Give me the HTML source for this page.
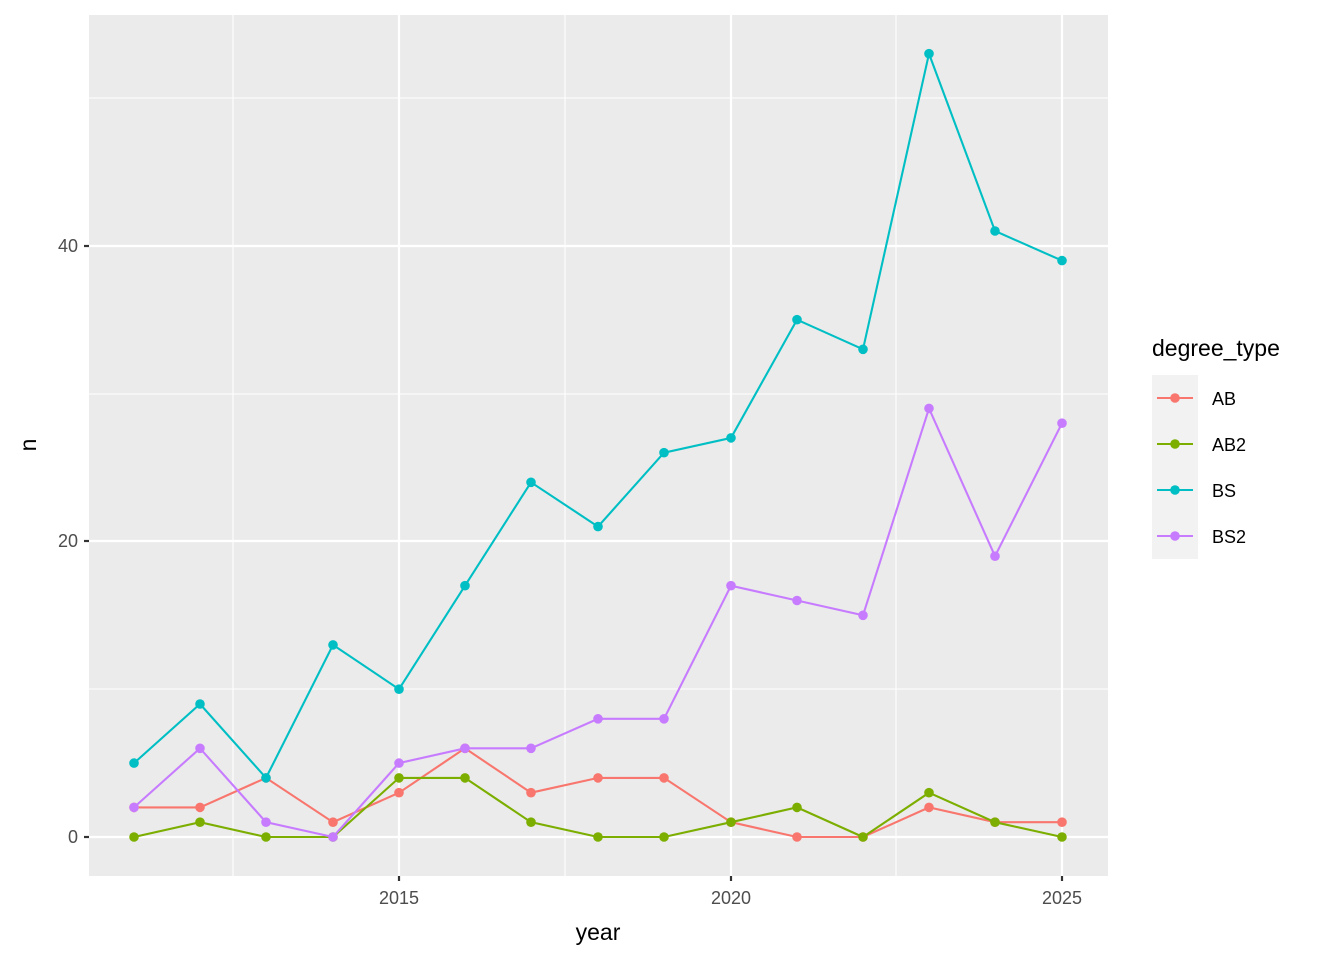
<!DOCTYPE html>
<html><head><meta charset="utf-8"><style>body{margin:0;background:#fff}svg{display:block}text{font-family:"Liberation Sans",Arial,sans-serif}</style></head>
<body>
<svg width="1344" height="960" viewBox="0 0 1344 960" xmlns="http://www.w3.org/2000/svg">
<defs>
<marker id="mA" markerUnits="userSpaceOnUse" markerWidth="12" markerHeight="12" refX="6" refY="6"><circle cx="6" cy="6" r="4.8" fill="#F8766D"/></marker>
<marker id="mB" markerUnits="userSpaceOnUse" markerWidth="12" markerHeight="12" refX="6" refY="6"><circle cx="6" cy="6" r="4.8" fill="#7CAE00"/></marker>
<marker id="mC" markerUnits="userSpaceOnUse" markerWidth="12" markerHeight="12" refX="6" refY="6"><circle cx="6" cy="6" r="4.8" fill="#00BFC4"/></marker>
<marker id="mD" markerUnits="userSpaceOnUse" markerWidth="12" markerHeight="12" refX="6" refY="6"><circle cx="6" cy="6" r="4.8" fill="#C77CFF"/></marker>
</defs>
<rect x="89" y="15" width="1019" height="861" fill="#ebebeb"/>
<g stroke="#fff" stroke-width="1.1">
<line x1="89" x2="1108" y1="689" y2="689"/><line x1="89" x2="1108" y1="394" y2="394"/><line x1="89" x2="1108" y1="98" y2="98"/>
<line y1="15" y2="876" x1="233" x2="233"/><line y1="15" y2="876" x1="565" x2="565"/><line y1="15" y2="876" x1="896" x2="896"/>
</g>
<g stroke="#fff" stroke-width="2.2">
<line x1="89" x2="1108" y1="837" y2="837"/><line x1="89" x2="1108" y1="541" y2="541"/><line x1="89" x2="1108" y1="246" y2="246"/>
<line y1="15" y2="876" x1="399" x2="399"/><line y1="15" y2="876" x1="731" x2="731"/><line y1="15" y2="876" x1="1062" x2="1062"/>
</g>
<g fill="none" stroke-width="2.1">
<polyline stroke="#F8766D" marker-start="url(#mA)" marker-mid="url(#mA)" marker-end="url(#mA)" points="134,807.4 200,807.4 266,777.9 333,822.2 399,792.7 465,748.3 531,792.7 598,777.9 664,777.9 731,822.2 797,837 863,837 929,807.4 995,822.2 1062,822.2"/>
<polyline stroke="#7CAE00" marker-start="url(#mB)" marker-mid="url(#mB)" marker-end="url(#mB)" points="134,837 200,822.2 266,837 333,837 399,777.9 465,777.9 531,822.2 598,837 664,837 731,822.2 797,807.4 863,837 929,792.7 995,822.2 1062,837"/>
<polyline stroke="#00BFC4" marker-start="url(#mC)" marker-mid="url(#mC)" marker-end="url(#mC)" points="134,763.1 200,704 266,777.9 333,644.9 399,689.2 465,585.7 531,482.3 598,526.6 664,452.7 731,437.9 797,319.7 863,349.3 929,53.7 995,231 1062,260.6"/>
<polyline stroke="#C77CFF" marker-start="url(#mD)" marker-mid="url(#mD)" marker-end="url(#mD)" points="134,807.4 200,748.3 266,822.2 333,837 399,763.1 465,748.3 531,748.3 598,718.8 664,718.8 731,585.7 797,600.5 863,615.3 929,408.4 995,556.2 1062,423.2"/>
</g>
<g stroke="#333" stroke-width="2.2">
<line x1="84" x2="89" y1="837" y2="837"/><line x1="84" x2="89" y1="541" y2="541"/><line x1="84" x2="89" y1="246" y2="246"/>
<line y1="876" y2="881" x1="399" x2="399"/><line y1="876" y2="881" x1="731" x2="731"/><line y1="876" y2="881" x1="1062" x2="1062"/>
</g>
<g font-size="18" fill="#4d4d4d">
<text x="78" y="843" text-anchor="end">0</text><text x="78" y="547" text-anchor="end">20</text><text x="78" y="252" text-anchor="end">40</text>
<text x="399" y="904" text-anchor="middle">2015</text><text x="731" y="904" text-anchor="middle">2020</text><text x="1062" y="904" text-anchor="middle">2025</text>
</g>
<text x="598" y="940" font-size="23" text-anchor="middle" fill="#000">year</text>
<text x="36" y="445" font-size="23" text-anchor="middle" fill="#000" transform="rotate(-90 36 445)">n</text>
<text x="1152" y="356" font-size="23" fill="#000">degree_type</text>
<rect x="1152" y="375" width="46" height="184" fill="#f2f2f2"/>
<g stroke-width="2.1">
<line x1="1157" x2="1193" y1="398" y2="398" stroke="#F8766D"/><circle cx="1175" cy="398" r="4.8" fill="#F8766D"/>
<line x1="1157" x2="1193" y1="444" y2="444" stroke="#7CAE00"/><circle cx="1175" cy="444" r="4.8" fill="#7CAE00"/>
<line x1="1157" x2="1193" y1="490" y2="490" stroke="#00BFC4"/><circle cx="1175" cy="490" r="4.8" fill="#00BFC4"/>
<line x1="1157" x2="1193" y1="536" y2="536" stroke="#C77CFF"/><circle cx="1175" cy="536" r="4.8" fill="#C77CFF"/>
</g>
<g font-size="18" fill="#000">
<text x="1212" y="405">AB</text><text x="1212" y="451">AB2</text><text x="1212" y="497">BS</text><text x="1212" y="543">BS2</text>
</g>
</svg>
</body></html>
